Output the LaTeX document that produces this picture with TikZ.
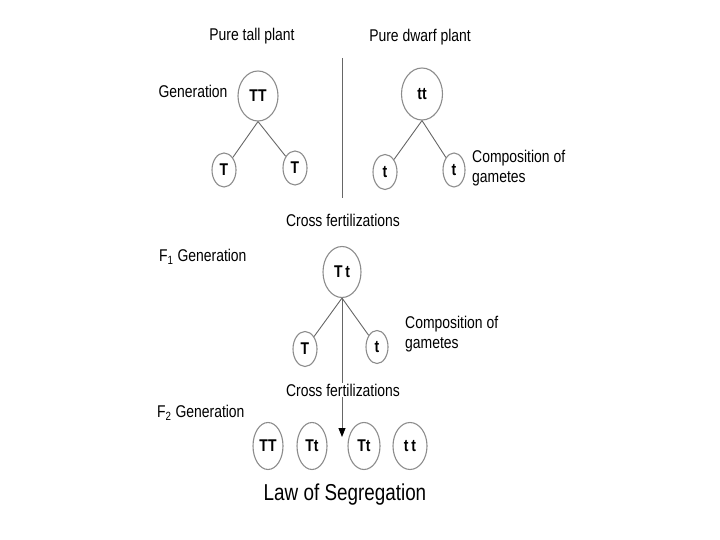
\documentclass[tikz,border=0pt]{standalone}
\usepackage{fontspec}
\setmainfont{Liberation Sans}[FakeStretch=0.82]
\usetikzlibrary{arrows.meta,positioning,shapes.geometric}

\begin{document}
\begin{tikzpicture}[
    x=1pt, y=-1pt,
    gene/.style={ellipse, draw=black!45, line width=1.1pt, inner sep=0pt,
                 font=\fontsize{17}{17}\selectfont\bfseries},
    lbl/.style={font=\fontsize{17}{20}\selectfont, inner sep=1pt, align=left},
    link/.style={draw=black!60, line width=0.9pt},
    arr/.style={link, -{Triangle[length=9pt, width=7pt, color=black]}}
]
\useasboundingbox (0,0) rectangle (720,540);

% parent plants
\node[lbl] (tall) at (252,36) {Pure tall plant};
\node[lbl] (dwarf) at (420,37) {Pure dwarf plant};
\node[lbl] (gen) at (193,91) {Generation};

\node[gene, minimum width=40pt, minimum height=50pt] (TT) at (258,96) {TT};
\node[gene, minimum width=24pt, minimum height=34pt] (T1) at (224,170) {T};
\node[gene, minimum width=24pt, minimum height=34pt] (T2) at (295,168) {T};

\node[gene, minimum width=41pt, minimum height=52pt] (tt) at (422,94) {tt};
\node[gene, minimum width=24pt, minimum height=35pt] (t1) at (385,172) {t};
\node[gene, minimum width=22pt, minimum height=34pt] (t2) at (454,170) {t};
\node[lbl, anchor=west] (comp1) at (471,168) {Composition of\\gametes};

\draw[link] (TT.south) -- (T1);
\draw[link] (TT.south) -- (T2);
\draw[link] (tt.south) -- (t1);
\draw[link] (tt.south) -- (t2);

\coordinate (divtop) at (342,58);
\coordinate (divbot) at (342,198);
\draw[link] (divtop) -- (divbot);

\node[lbl] (cross1) at (343,220) {Cross fertilizations};

% F1
\node[lbl, anchor=west] (f1) at (158,257) {F\textsubscript{1} Generation};
\node[gene, minimum width=38pt, minimum height=51pt] (Tt) at (342,272) {T\,t};
\node[gene, minimum width=24pt, minimum height=35pt] (T3) at (305,349) {T};
\node[gene, minimum width=22pt, minimum height=33pt] (t3) at (377,347) {t};
\node[lbl, anchor=west] (comp2) at (404,334) {Composition of\\gametes};

\draw[link] (Tt.south) -- (T3);
\draw[link] (Tt.south) -- (t3);

\coordinate (arrtip) at (342,437);
\draw[arr] (Tt.south) -- (arrtip);
\node[lbl, fill=white] (cross2) at (343,390) {Cross fertilizations};

% F2
\node[lbl, anchor=west] (f2) at (156,413) {F\textsubscript{2} Generation};
\node[gene, minimum width=30pt, minimum height=47pt] (F2a) at (268,446) {TT};
\node[gene, minimum width=30pt, minimum height=47pt] (F2b) at (312,446) {Tt};
\node[gene, minimum width=32pt, minimum height=47pt] (F2c) at (364,446) {Tt};
\node[gene, minimum width=34pt, minimum height=47pt] (F2d) at (410,446) {t\,t};

\node[lbl, font=\fontsize{23}{23}\selectfont] (law) at (345,495) {Law of Segregation};
\end{tikzpicture}
\end{document}
